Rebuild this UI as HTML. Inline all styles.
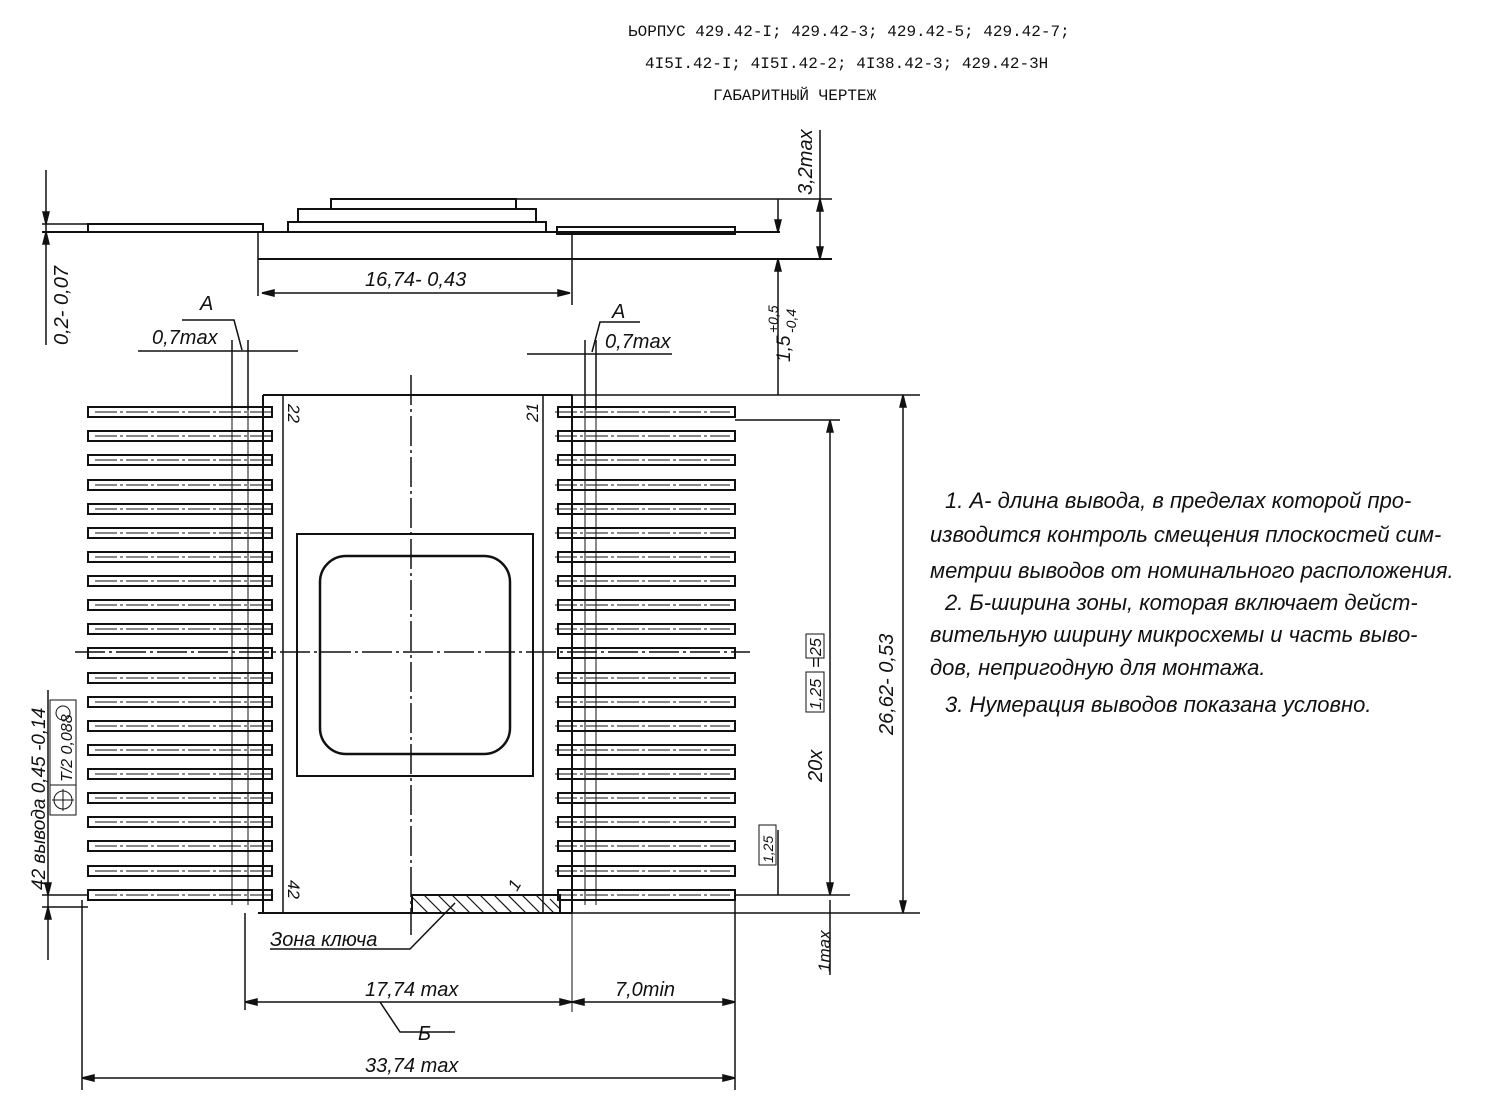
<!DOCTYPE html>
<html><head><meta charset="utf-8"><style>
html,body{margin:0;padding:0;background:#fff;}
svg{display:block}
text{font-family:"Liberation Sans","DejaVu Sans",sans-serif;fill:#111;}
.t{font-family:"Liberation Mono","DejaVu Sans Mono",monospace;font-size:16px;}
.h{font-style:italic;font-size:20px;}
.n{font-style:italic;font-size:22px;}
</style></head><body>
<svg width="1498" height="1097" viewBox="0 0 1498 1097" xmlns="http://www.w3.org/2000/svg">
<g stroke="#111" fill="none" stroke-width="1.5">
<text class="t" x="628" y="36" stroke="none">ЬОРПУС 429.42-I; 429.42-3; 429.42-5; 429.42-7;</text>
<text class="t" x="645" y="68" stroke="none">4I5I.42-I; 4I5I.42-2; 4I38.42-3; 429.42-3Н</text>
<text class="t" x="713" y="100" stroke="none">ГАБАРИТНЫЙ  ЧЕРТЕЖ</text>

<!-- side view -->
<line x1="42" y1="224" x2="262" y2="224"/>
<line x1="42" y1="232" x2="780" y2="232" stroke-width="2"/>
<rect x="88" y="224" width="175" height="8" stroke-width="2"/>
<rect x="557" y="227" width="178" height="7" stroke-width="2"/>
<rect x="288" y="222" width="258" height="10" stroke-width="2"/>
<rect x="298" y="209" width="238" height="13" stroke-width="2"/>
<rect x="331" y="199" width="185" height="10" stroke-width="2"/>
<line x1="516" y1="199" x2="832" y2="199"/>
<line x1="258" y1="232" x2="258" y2="296"/>
<line x1="572" y1="232" x2="572" y2="305"/>
<line x1="258" y1="259" x2="832" y2="259" stroke-width="2"/>
<line x1="262" y1="293" x2="570" y2="293"/>
<path d="M262 293 l12 -3 v6z M570 293 l-12 -3 v6z" fill="#111"/>
<text class="h" x="365" y="286" stroke="none">16,74- 0,43</text>
<line x1="820" y1="130" x2="820" y2="259"/>
<path d="M820 199 l-3 12 h6z M820 259 l-3 -12 h6z" fill="#111"/>
<text class="h" transform="translate(812,195) rotate(-90)" stroke="none">3,2max</text>
<line x1="778" y1="199" x2="778" y2="232"/>
<path d="M778 232 l-3 -12 h6z M778 259 l-3 12 h6z" fill="#111"/>
<line x1="778" y1="259" x2="778" y2="395"/>
<text class="h" transform="translate(790,362) rotate(-90)" stroke="none" style="font-size:19px">1,5</text>
<text class="h" transform="translate(778,333) rotate(-90)" stroke="none" style="font-size:14px">+0,5</text>
<text class="h" transform="translate(796,333) rotate(-90)" stroke="none" style="font-size:14px">-0,4</text>
<line x1="46" y1="170" x2="46" y2="345"/>
<path d="M46 224 l-3 -12 h6z M46 232 l-3 12 h6z" fill="#111"/>
<text class="h" transform="translate(68,345) rotate(-90)" stroke="none">0,2- 0,07</text>

<!-- A marks -->
<text class="h" x="200" y="310" stroke="none">A</text>
<path d="M182 320 h52 l8 30"/>
<text class="h" x="152" y="344" stroke="none">0,7max</text>
<line x1="138" y1="351" x2="298" y2="351"/>
<line x1="232" y1="340" x2="232" y2="410"/><line x1="248" y1="340" x2="248" y2="410"/>
<text class="h" x="612" y="318" stroke="none">A</text>
<path d="M640 322 h-40 l-8 30"/>
<text class="h" x="605" y="348" stroke="none">0,7max</text>
<line x1="527" y1="354" x2="672" y2="354"/>
<line x1="585" y1="340" x2="585" y2="410"/><line x1="596" y1="340" x2="596" y2="410"/>

<!-- body -->
<path d="M263 395 H572 M263 395 V913 M258 913 H572 M572 395 V913" stroke-width="2"/>
<line x1="283" y1="395" x2="283" y2="913"/>
<line x1="543" y1="395" x2="543" y2="913"/>
<rect x="297" y="534" width="236" height="242" stroke-width="2"/>
<rect x="320" y="556" width="190" height="198" rx="26" stroke-width="2.5"/>
<line x1="411" y1="375" x2="411" y2="935" stroke-dasharray="30 4 3 4"/>
<line x1="75" y1="652" x2="750" y2="652" stroke-dasharray="30 4 3 4"/>
<text class="h" transform="translate(288,404) rotate(90)" stroke="none" style="font-size:17px">22</text>
<text class="h" transform="translate(538,422) rotate(-90)" stroke="none" style="font-size:17px">21</text>
<text class="h" transform="translate(288,880) rotate(90)" stroke="none" style="font-size:17px">42</text>
<text class="h" transform="translate(517,892) rotate(-60)" stroke="none" style="font-size:17px">1</text>
<!-- key zone -->
<rect x="412" y="895" width="148" height="18" stroke-width="2"/>
<g stroke-width="1.2">
<path d="M412 897 l16 16 M424 895 l18 18 M438 895 l18 18 M452 895 l18 18 M466 895 l18 18 M480 895 l18 18 M494 895 l18 18 M508 895 l18 18 M522 895 l18 18 M536 895 l18 18 M550 899 l10 10"/>
</g>
<path d="M455 903 l-45 46 H270"/>
<text class="h" x="270" y="946" stroke="none">Зона ключа</text>

<!-- pins -->
<g stroke-width="2">
<rect x="88" y="407" width="184" height="10"/><rect x="88" y="431" width="184" height="10"/><rect x="88" y="455" width="184" height="10"/><rect x="88" y="480" width="184" height="10"/><rect x="88" y="504" width="184" height="10"/><rect x="88" y="528" width="184" height="10"/><rect x="88" y="552" width="184" height="10"/><rect x="88" y="576" width="184" height="10"/><rect x="88" y="600" width="184" height="10"/><rect x="88" y="624" width="184" height="10"/><rect x="88" y="648" width="184" height="10"/><rect x="88" y="673" width="184" height="10"/><rect x="88" y="697" width="184" height="10"/><rect x="88" y="721" width="184" height="10"/><rect x="88" y="745" width="184" height="10"/><rect x="88" y="769" width="184" height="10"/><rect x="88" y="793" width="184" height="10"/><rect x="88" y="817" width="184" height="10"/><rect x="88" y="841" width="184" height="10"/><rect x="88" y="866" width="184" height="10"/><rect x="88" y="890" width="184" height="10"/>
</g>
<g stroke-width="2">
<rect x="558" y="407" width="177" height="10"/><rect x="558" y="431" width="177" height="10"/><rect x="558" y="455" width="177" height="10"/><rect x="558" y="480" width="177" height="10"/><rect x="558" y="504" width="177" height="10"/><rect x="558" y="528" width="177" height="10"/><rect x="558" y="552" width="177" height="10"/><rect x="558" y="576" width="177" height="10"/><rect x="558" y="600" width="177" height="10"/><rect x="558" y="624" width="177" height="10"/><rect x="558" y="648" width="177" height="10"/><rect x="558" y="673" width="177" height="10"/><rect x="558" y="697" width="177" height="10"/><rect x="558" y="721" width="177" height="10"/><rect x="558" y="745" width="177" height="10"/><rect x="558" y="769" width="177" height="10"/><rect x="558" y="793" width="177" height="10"/><rect x="558" y="817" width="177" height="10"/><rect x="558" y="841" width="177" height="10"/><rect x="558" y="866" width="177" height="10"/><rect x="558" y="890" width="177" height="10"/>
</g>
<g stroke-width="1" stroke-dasharray="22 3 3 3">
<path d="M95 412h180M95 436h180M95 460h180M95 485h180M95 509h180M95 533h180M95 557h180M95 581h180M95 605h180M95 629h180M95 678h180M95 702h180M95 726h180M95 750h180M95 774h180M95 798h180M95 822h180M95 846h180M95 871h180M95 895h180"/>
<path d="M555 412h175M555 436h175M555 460h175M555 485h175M555 509h175M555 533h175M555 557h175M555 581h175M555 605h175M555 629h175M555 678h175M555 702h175M555 726h175M555 750h175M555 774h175M555 798h175M555 822h175M555 846h175M555 871h175M555 895h175"/>
</g>
<g stroke-width="1">
<line x1="232" y1="410" x2="232" y2="905"/><line x1="248" y1="410" x2="248" y2="905"/>
<line x1="585" y1="410" x2="585" y2="905"/><line x1="596" y1="410" x2="596" y2="905"/>
<line x1="572" y1="900" x2="572" y2="1012"/>
</g>

<!-- right dims -->
<line x1="572" y1="395" x2="920" y2="395"/>
<line x1="735" y1="420" x2="840" y2="420"/>
<line x1="735" y1="895" x2="850" y2="895"/>
<line x1="572" y1="913" x2="920" y2="913"/>
<line x1="830" y1="420" x2="830" y2="895"/>
<path d="M830 420 l-3 12 h6z M830 895 l-3 -12 h6z" fill="#111"/>
<line x1="903" y1="395" x2="903" y2="913"/>
<path d="M903 395 l-3 12 h6z M903 913 l-3 -12 h6z" fill="#111"/>
<text class="h" transform="translate(893,735) rotate(-90)" stroke="none">26,62- 0,53</text>
<text class="h" transform="translate(822,782) rotate(-90)" stroke="none">20x</text>
<rect x="806" y="672" width="18" height="40" stroke-width="1"/>
<text class="h" transform="translate(821,710) rotate(-90)" stroke="none" style="font-size:16px">1,25</text>
<text class="h" transform="translate(822,668) rotate(-90)" stroke="none" style="font-size:18px">=</text>
<rect x="806" y="634" width="18" height="24" stroke-width="1"/>
<text class="h" transform="translate(821,656) rotate(-90)" stroke="none" style="font-size:16px">25</text>
<rect x="759" y="825" width="17" height="40" stroke-width="1"/>
<text class="h" transform="translate(773,863) rotate(-90)" stroke="none" style="font-size:14px">1,25</text>
<line x1="778" y1="830" x2="778" y2="895"/>
<line x1="830" y1="900" x2="830" y2="975"/>
<text class="h" transform="translate(830,972) rotate(-90)" stroke="none" style="font-size:17px">1max</text>

<!-- left dims -->
<line x1="42" y1="895" x2="88" y2="895"/>
<line x1="42" y1="907" x2="88" y2="907"/>
<line x1="48" y1="690" x2="48" y2="960"/>
<path d="M48 895 l-3 -12 h6z M48 907 l-3 12 h6z" fill="#111"/>
<text class="h" transform="translate(45,890) rotate(-90)" stroke="none" style="font-size:19px">42 вывода 0,45 -0,14</text>
<rect x="50" y="700" width="26" height="115" stroke-width="1"/>
<line x1="50" y1="785" x2="76" y2="785" stroke-width="1"/>
<circle cx="63" cy="800" r="9" stroke-width="1"/>
<line x1="52" y1="800" x2="74" y2="800" stroke-width="1"/><line x1="63" y1="789" x2="63" y2="811" stroke-width="1"/>
<text class="h" transform="translate(72,782) rotate(-90)" stroke="none" style="font-size:16px">T/2 0,088</text>
<circle cx="63" cy="713" r="7" stroke-width="1"/>

<!-- bottom dims -->
<line x1="245" y1="913" x2="245" y2="1010"/>
<line x1="735" y1="900" x2="735" y2="1090"/>
<line x1="82" y1="900" x2="82" y2="1090"/>
<line x1="245" y1="1002" x2="735" y2="1002"/>
<path d="M245 1002 l12 -3 v6z M572 1002 l-12 -3 v6z M572 1002 l12 -3 v6z M735 1002 l-12 -3 v6z" fill="#111"/>
<text class="h" x="365" y="996" stroke="none">17,74 max</text>
<text class="h" x="615" y="996" stroke="none">7,0min</text>
<path d="M380 1002 l20 30 h55"/>
<text class="h" x="418" y="1040" stroke="none">Б</text>
<line x1="82" y1="1078" x2="735" y2="1078"/>
<path d="M82 1078 l12 -3 v6z M735 1078 l-12 -3 v6z" fill="#111"/>
<text class="h" x="365" y="1072" stroke="none">33,74 max</text>

<!-- notes -->
<g stroke="none">
<text class="n" x="945" y="508">1. А- длина вывода, в пределах которой про-</text>
<text class="n" x="930" y="542">изводится контроль смещения плоскостей сим-</text>
<text class="n" x="930" y="578">метрии выводов от номинального расположения.</text>
<text class="n" x="945" y="610">2. Б-ширина зоны, которая включает дейст-</text>
<text class="n" x="930" y="642">вительную ширину микросхемы и часть выво-</text>
<text class="n" x="930" y="675">дов, непригодную для монтажа.</text>
<text class="n" x="945" y="712">3.  Нумерация выводов показана условно.</text>
</g>
</g>
</svg>
</body></html>
